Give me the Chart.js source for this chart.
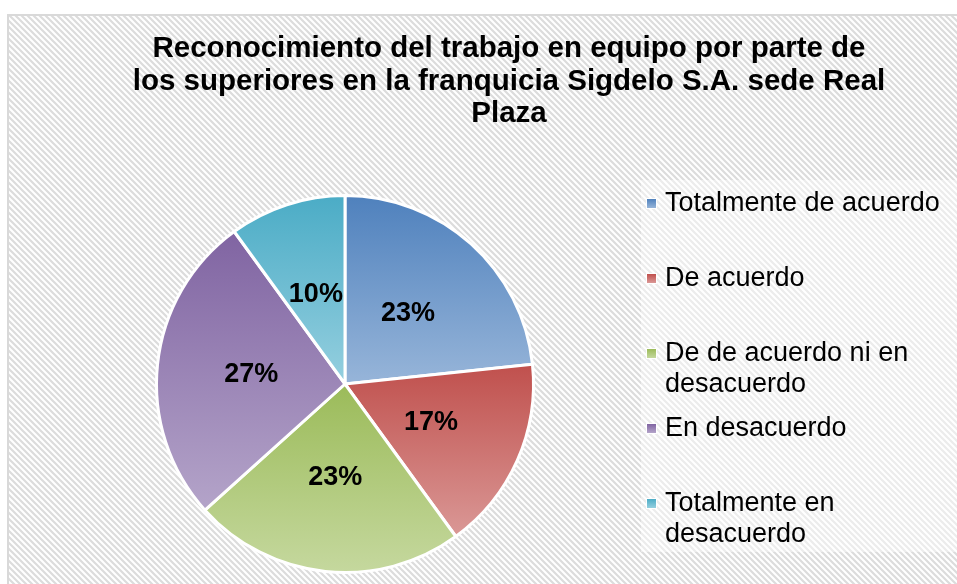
<!DOCTYPE html>
<html>
<head>
<meta charset="utf-8">
<script src="https://cdn.jsdelivr.net/npm/chart.js@4"></script>
<style>
  html, body { margin: 0; padding: 0; background: #fff; }
  #wrap { width: 957px; height: 584px; position: relative; }
</style>
</head>
<body>
<div id="wrap"><canvas id="grafica"></canvas></div>
<script>
// datos
const titleLines = ['Reconocimiento del trabajo en equipo por parte de', 'los superiores en la franquicia Sigdelo S.A. sede Real', 'Plaza'];
const categories = ['Totalmente de acuerdo', 'De acuerdo', 'De de acuerdo ni en desacuerdo', 'En desacuerdo', 'Totalmente en desacuerdo'];
const counts = [7, 5, 7, 8, 3];
const topColors = ['#4F81BD', '#C0504D', '#9BBB59', '#8064A2', '#4BACC6'];
const bottomColors = ['#97B5D9', '#DA9896', '#C5D89E', '#B4A4C9', '#95CFDF'];

const total = counts.reduce((a, b) => a + b, 0);
const FONT = '"Liberation Sans", Arial, sans-serif';

// fondo rayado
function makeHatch() {
  const s = 6;
  const c = document.createElement('canvas');
  c.width = s; c.height = s;
  const x = c.getContext('2d');
  x.fillStyle = '#fff';
  x.fillRect(0, 0, s, s);
  x.strokeStyle = '#dcdcdc';
  x.lineWidth = 2.2;
  x.beginPath();
  x.moveTo(-s, 0); x.lineTo(s, 2 * s);
  x.moveTo(0, 0); x.lineTo(s, s);
  x.moveTo(0, -s); x.lineTo(2 * s, s);
  x.stroke();
  return c;
}

const bgPlugin = {
  id: 'bg',
  beforeDraw(chart) {
    const ctx = chart.ctx;
    ctx.save();
    ctx.fillStyle = '#fff';
    ctx.fillRect(0, 0, chart.width, chart.height);
    ctx.fillStyle = ctx.createPattern(makeHatch(), 'repeat');
    ctx.fillRect(9, 16, chart.width, chart.height);
    ctx.strokeStyle = '#d9d9d9';
    ctx.lineWidth = 2;
    ctx.strokeRect(8, 15, chart.width + 10, chart.height + 10);
    // caja de la leyenda
    ctx.fillStyle = 'rgba(255,255,255,0.45)';
    ctx.fillRect(641, 180, 316, 372);
    ctx.restore();
  }
};

// degradado por porcion
const gradPlugin = {
  id: 'grad',
  beforeDatasetsDraw(chart) {
    const ctx = chart.ctx;
    const meta = chart.getDatasetMeta(0);
    meta.data.forEach((arc, i) => {
      const p = arc.getProps(['x', 'y', 'startAngle', 'endAngle', 'outerRadius']);
      let ys = [p.y, p.y + Math.sin(p.startAngle) * p.outerRadius, p.y + Math.sin(p.endAngle) * p.outerRadius];
      [Math.PI / 2, 3 * Math.PI / 2, -Math.PI / 2, 5 * Math.PI / 2].forEach(a => {
        if (a > p.startAngle && a < p.endAngle) ys.push(p.y + Math.sin(a) * p.outerRadius);
      });
      const g = ctx.createLinearGradient(0, Math.min(...ys), 0, Math.max(...ys));
      g.addColorStop(0, topColors[i]);
      g.addColorStop(1, bottomColors[i]);
      arc.options.backgroundColor = g;
    });
  },
  afterDatasetsDraw(chart) {
    const ctx = chart.ctx;
    const meta = chart.getDatasetMeta(0);
    ctx.save();
    ctx.font = 'bold 27px ' + FONT;
    ctx.fillStyle = '#000';
    ctx.textAlign = 'center';
    ctx.textBaseline = 'middle';
    meta.data.forEach((arc, i) => {
      const c = arc.getCenterPoint();
      ctx.fillText(Math.round(counts[i] / total * 100) + '%', c.x, c.y);
    });
    ctx.restore();
  }
};

function wrap(ctx, text, maxW) {
  const words = text.split(' ');
  const lines = [];
  let cur = '';
  words.forEach(w => {
    const t = cur ? cur + ' ' + w : w;
    if (cur && ctx.measureText(t).width > maxW) { lines.push(cur); cur = w; }
    else cur = t;
  });
  lines.push(cur);
  return lines;
}

const textPlugin = {
  id: 'texts',
  afterDraw(chart) {
    const ctx = chart.ctx;
    ctx.save();
    ctx.fillStyle = '#000';
    ctx.textBaseline = 'alphabetic';
    // titulo
    ctx.font = 'bold 29.5px ' + FONT;
    ctx.textAlign = 'center';
    titleLines.forEach((t, i) => ctx.fillText(t, 509, 57 + i * 32.5));
    // leyenda
    ctx.font = '27px ' + FONT;
    ctx.textAlign = 'left';
    categories.forEach((c, i) => {
      const base = 211 + i * 75;
      const g = ctx.createLinearGradient(0, base - 12, 0, base - 3);
      g.addColorStop(0, topColors[i]);
      g.addColorStop(1, bottomColors[i]);
      ctx.fillStyle = '#fff';
      ctx.fillRect(646, base - 13, 11, 11);
      ctx.fillStyle = g;
      ctx.fillRect(647, base - 12, 9, 9);
      ctx.fillStyle = '#000';
      wrap(ctx, c, 285).forEach((l, j) => ctx.fillText(l, 665, base + j * 31));
    });
    ctx.restore();
  }
};

const graph = document.querySelector('#grafica');

new Chart(graph, {
  type: 'pie',
  data: {
    labels: categories,
    datasets: [{
      data: counts,
      backgroundColor: topColors,
      borderColor: '#fff',
      borderWidth: 3
    }]
  },
  options: {
    responsive: true,
    maintainAspectRatio: false,
    animation: false,
    layout: { padding: { left: 155, right: 422, top: 194, bottom: 10 } },
    plugins: {
      legend: { display: false },
      title: { display: false },
      tooltip: { enabled: false }
    }
  },
  plugins: [bgPlugin, gradPlugin, textPlugin]
});
</script>
</body>
</html>
